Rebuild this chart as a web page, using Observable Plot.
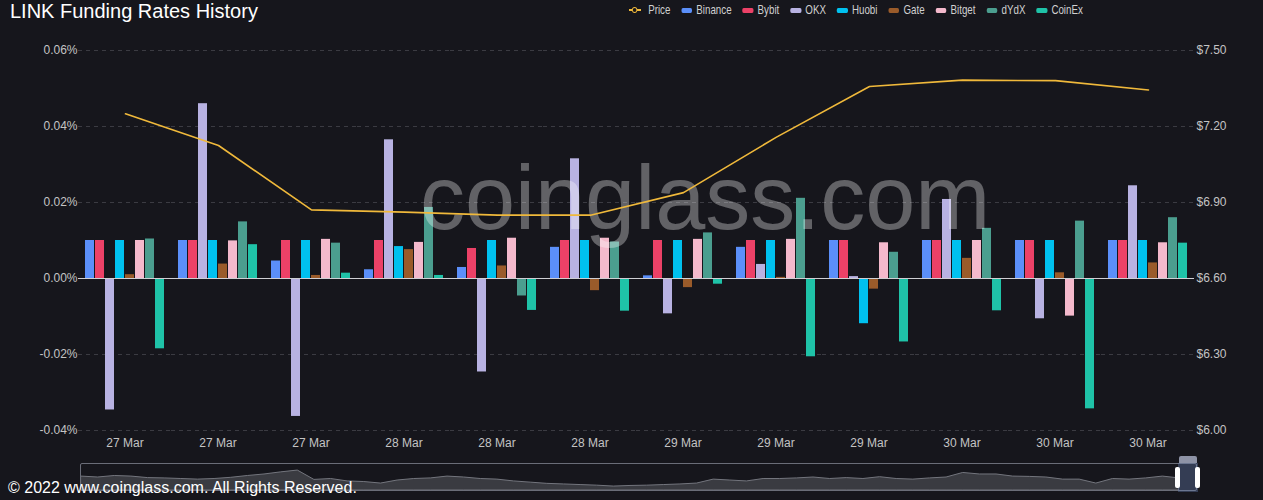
<!DOCTYPE html>
<html lang="en">
<head>
<meta charset="utf-8">
<title>LINK Funding Rates History</title>
<script src="https://cdn.jsdelivr.net/npm/d3@7"></script>
<script src="https://cdn.jsdelivr.net/npm/@observablehq/plot@0.6"></script>
<style>
  body { margin: 0; background: #16161c; }
  #chart {
    position: relative;
    width: 1263px;
    height: 500px;
    overflow: hidden;
    background: #16161c;
    font-family: 'Liberation Sans', Arial, sans-serif;
  }
  #chart svg { position: absolute; left: 0; top: 0; }
  #title {
    position: absolute; left: 10px; top: -1px;
    font-size: 20px; line-height: 24px; color: #fff;
  }
  /* legend text is narrow in the original, so squeeze it horizontally */
  #legend {
    position: absolute; left: 629px; top: 2px;
    display: flex; gap: 14.5px; align-items: center;
    transform: scaleX(0.75); transform-origin: 0 0;
    font-size: 13px; color: #d0d0d0; line-height: 16px; white-space: nowrap;
  }
  #legend .item { display: flex; align-items: center; gap: 5.5px; }
  #legend .sw { width: 14.7px; height: 5px; border-radius: 2px; }
  #legend .pr { position: relative; width: 16px; height: 2px; margin-right: 4px; }
  #legend .pr::after {
    content: ""; position: absolute; left: 4px; top: -2px; width: 5.3px; height: 4px;
    border-radius: 50%; background: #16161c; border: 1px solid #f0b93b;
  }
  #watermark {
    position: absolute; left: 420px; top: 153px;
    font-size: 90px; line-height: 90px; color: rgba(255,255,255,0.33);
    pointer-events: none;
  }
  #slider {
    position: absolute; left: 80px; top: 463px; width: 1117px; height: 28px;
    border: 1px solid #6a6d78; border-radius: 2px; box-sizing: border-box;
  }
  #slider svg { left: 0; top: 0; }
  #window {
    position: absolute; left: 1178px; top: 463px; width: 20px; height: 29px;
    background: rgba(110,135,190,0.35);
  }
  #tab {
    position: absolute; left: 1179px; top: 456px; width: 18px; height: 7px;
    background: #8e93a6; border-radius: 2px 2px 0 0;
  }
  .handle {
    position: absolute; top: 467px; width: 5px; height: 21px;
    background: #fff; border-radius: 2px;
  }
  #footer {
    position: absolute; left: 8px; top: 479px;
    font-size: 16px; line-height: 18px; color: #fff;
  }
</style>
</head>
<body>
<div id="chart">
  <div id="title">LINK Funding Rates History</div>
  <div id="legend"></div>
</div>

<script>
  const slots = ["27 Mar", "27 Mar", "27 Mar", "28 Mar", "28 Mar", "28 Mar",
                 "29 Mar", "29 Mar", "29 Mar", "30 Mar", "30 Mar", "30 Mar"];
  const exchanges = ["Binance", "Bybit", "OKX", "Huobi", "Gate", "Bitget", "dYdX", "CoinEx"];
  const colors = ["#5b8ff9", "#ec4167", "#b8b2e2", "#00c1ef", "#9a5b2a", "#f4b9cc", "#4b9e8f", "#1fc3a8"];

  // funding rates in %, one value per slot
  const binance = [0.010, 0.010, 0.0046, 0.0023, 0.0029, 0.0082, 0.0007, 0.0082, 0.010, 0.010, 0.010, 0.010];
  const bybit   = [0.010, 0.010, 0.010, 0.010, 0.0079, 0.010, 0.010, 0.010, 0.010, 0.010, 0.010, 0.010];
  const okx     = [-0.0346, 0.046, -0.0363, 0.0365, -0.0246, 0.0315, -0.0093, 0.0037, 0.0005, 0.0208, -0.0106, 0.0244];
  const huobi   = [0.010, 0.010, 0.010, 0.0084, 0.010, 0.010, 0.010, 0.010, -0.0119, 0.010, 0.010, 0.010];
  const gate    = [0.001, 0.0038, 0.0008, 0.0076, 0.0033, -0.0032, -0.0024, 0.0003, -0.0028, 0.0053, 0.0015, 0.0041];
  const bitget  = [0.010, 0.0099, 0.0103, 0.0095, 0.0106, 0.0106, 0.0103, 0.0103, 0.0094, 0.010, -0.0099, 0.0094];
  const dydx    = [0.0104, 0.0149, 0.0093, 0.0187, -0.0046, 0.0096, 0.012, 0.0211, 0.0069, 0.0132, 0.0151, 0.016];
  const coinex  = [-0.0185, 0.0089, 0.0014, 0.0008, -0.0084, -0.0086, -0.0015, -0.0206, -0.0167, -0.0085, -0.0343, 0.0093];

  const price = [7.25, 7.125, 6.871, 6.862, 6.85, 6.85, 6.939, 7.158, 7.358, 7.383, 7.381, 7.344];

  const rateTicks = [-0.04, -0.02, 0, 0.02, 0.04, 0.06];
  const priceTicks = [6.0, 6.3, 6.6, 6.9, 7.2, 7.5];

  // overview strip under the chart (relative heights)
  const overview = [46, 43, 48, 46, 41, 40, 38, 36, 38, 42, 48, 53, 60, 66, 35, 38, 30, 28, 23, 33,
                    38, 40, 46, 43, 38, 36, 30, 26, 22, 20, 18, 16, 13, 15, 16, 18, 20, 23, 36, 33,
                    30, 38, 38, 40, 43, 38, 41, 38, 44, 38, 36, 40, 43, 58, 53, 53, 46, 45, 43, 36,
                    36, 23, 38, 36, 40, 46, 40];

  const series = [binance, bybit, okx, huobi, gate, bitget, dydx, coinex];
  const rows = [];
  slots.forEach((s, i) => series.forEach((v, k) => rows.push({slot: i, exchange: exchanges[k], rate: v[i]})));

  const chart = document.getElementById("chart");
  const font = "'Liberation Sans', Arial, sans-serif";

  const bars = Plot.plot({
    width: 1263, height: 460,
    marginTop: 50, marginBottom: 30, marginLeft: 77, marginRight: 68,
    style: {background: "transparent", color: "#c4c4c4", fontSize: "12px", fontFamily: font},
    fx: {domain: d3.range(slots.length), padding: 0, axis: "bottom", tickSize: 0, tickPadding: 8,
         tickFormat: i => slots[i], label: null},
    x: {domain: exchanges, paddingInner: 0.15, paddingOuter: 0.72, axis: null},
    y: {domain: [-0.04, 0.06], ticks: rateTicks, tickFormat: d => d.toFixed(2) + "%",
        tickSize: 0, tickPadding: 1, label: null},
    color: {domain: exchanges, range: colors},
    marks: [
      Plot.ruleY(rateTicks, {stroke: "#3b3b42", strokeDasharray: "4,4"}),
      Plot.barY(rows, {fx: "slot", x: "exchange", y: "rate", fill: "exchange"}),
      Plot.ruleY([0], {stroke: "#cfcfd4"})
    ]
  });
  chart.appendChild(bars);

  const wm = document.createElement("div");
  wm.id = "watermark";
  wm.textContent = "coinglass.com";
  chart.appendChild(wm);

  const line = Plot.plot({
    width: 1263, height: 460,
    marginTop: 50, marginBottom: 30, marginLeft: 77, marginRight: 68,
    style: {background: "transparent", color: "#c4c4c4", fontSize: "12px", fontFamily: font},
    x: {type: "point", domain: d3.range(price.length), padding: 0.5, axis: null},
    y: {domain: [6.0, 7.5], axis: "right", ticks: priceTicks, tickFormat: d => "$" + d.toFixed(2),
        tickSize: 0, tickPadding: 1, label: null},
    marks: [
      Plot.line(price, {x: (d, i) => i, y: d => d, stroke: "#f0b93b", strokeWidth: 1.6})
    ]
  });
  chart.appendChild(line);

  // legend
  const legend = document.getElementById("legend");
  const pi = document.createElement("div");
  pi.className = "item";
  pi.innerHTML = '<span class="pr" style="background:#f0b93b"></span><span>Price</span>';
  legend.appendChild(pi);
  exchanges.forEach((e, k) => {
    const it = document.createElement("div");
    it.className = "item";
    it.innerHTML = `<span class="sw" style="background:${colors[k]}"></span><span>${e}</span>`;
    legend.appendChild(it);
  });

  // overview strip
  const slider = document.createElement("div");
  slider.id = "slider";
  chart.appendChild(slider);
  const mini = Plot.plot({
    width: 1098, height: 26, margin: 0,
    style: {background: "transparent"},
    x: {domain: [0, overview.length - 1], axis: null},
    y: {domain: [0, 86], axis: null},
    marks: [
      Plot.areaY(overview, {x: (d, i) => i, y: d => d, fill: "#3a3b41", stroke: "#73757d", strokeWidth: 1})
    ]
  });
  slider.appendChild(mini);

  ["window", "tab"].forEach(id => {
    const d = document.createElement("div");
    d.id = id;
    chart.appendChild(d);
  });
  [1175, 1195].forEach(x => {
    const h = document.createElement("div");
    h.className = "handle";
    h.style.left = x + "px";
    chart.appendChild(h);
  });

  const footer = document.createElement("div");
  footer.id = "footer";
  footer.textContent = "\u00a9 2022 www.coinglass.com. All Rights Reserved.";
  chart.appendChild(footer);
</script>
</body>
</html>
